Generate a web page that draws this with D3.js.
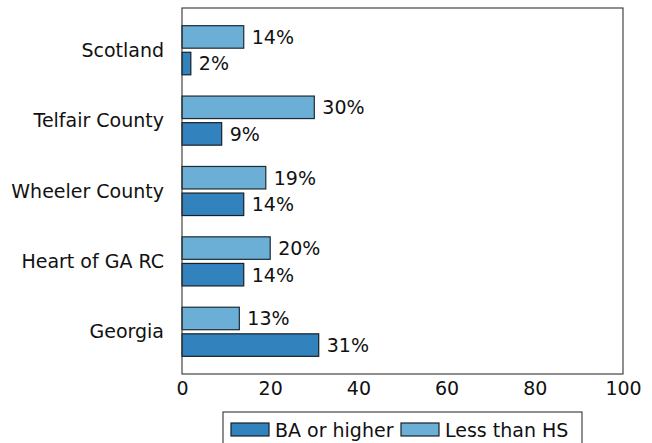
<!DOCTYPE html>
<html>
<head>
<meta charset="utf-8">
<script src="https://cdn.jsdelivr.net/npm/d3@7"></script>
<style>
  body { margin: 0; background: #fff; }
  text { font-family: "DejaVu Sans", sans-serif; fill: #111; }
</style>
</head>
<body>
<div id="chart"></div>
<script>
// data
const categories = ["Scotland", "Telfair County", "Wheeler County", "Heart of GA RC", "Georgia"];
const baOrHigher = [2, 9, 14, 14, 31];
const lessThanHS = [14, 30, 19, 20, 13];
const xTicks = [0, 20, 40, 60, 80, 100];
const seriesNames = ["BA or higher", "Less than HS"];

const width = 652, height = 443;
const margin = { top: 8, right: 29, bottom: 69, left: 182 };
const fontSize = 19;
const colors = { ba: "#3182bd", hs: "#6baed6" };

const svg = d3.select("#chart").append("svg")
  .attr("width", width)
  .attr("height", height);

const x = d3.scaleLinear()
  .domain([0, 100])
  .range([margin.left, width - margin.right]);

const y = d3.scalePoint()
  .domain(categories)
  .range([margin.top, height - margin.bottom])
  .padding(0.6);

const barH = 22.5;
const offset = 13.3;

// bars: less than HS on top, BA below
const rows = categories.map((c, i) => ({ c, ba: baOrHigher[i], hs: lessThanHS[i] }));

const g = svg.append("g");

g.selectAll("rect.hs")
  .data(rows)
  .join("rect")
  .attr("class", "hs")
  .attr("x", x(0))
  .attr("y", d => y(d.c) - offset - barH / 2)
  .attr("width", d => x(d.hs) - x(0))
  .attr("height", barH)
  .style("fill", colors.hs)
  .style("stroke", "#1f2a33")
  .style("stroke-width", 1.2);

g.selectAll("rect.ba")
  .data(rows)
  .join("rect")
  .attr("class", "ba")
  .attr("x", x(0))
  .attr("y", d => y(d.c) + offset - barH / 2)
  .attr("width", d => x(d.ba) - x(0))
  .attr("height", barH)
  .style("fill", colors.ba)
  .style("stroke", "#1a1f26")
  .style("stroke-width", 1.2);

// value labels
g.selectAll("text.hsl")
  .data(rows)
  .join("text")
  .attr("class", "hsl")
  .attr("x", d => x(d.hs) + 8)
  .attr("y", d => y(d.c) - offset)
  .attr("dy", "0.36em")
  .style("font-size", fontSize + "px")
  .text(d => d.hs + "%");

g.selectAll("text.bal")
  .data(rows)
  .join("text")
  .attr("class", "bal")
  .attr("x", d => x(d.ba) + 8)
  .attr("y", d => y(d.c) + offset)
  .attr("dy", "0.36em")
  .style("font-size", fontSize + "px")
  .text(d => d.ba + "%");

// frame
svg.append("rect")
  .attr("x", margin.left)
  .attr("y", margin.top)
  .attr("width", width - margin.right - margin.left)
  .attr("height", height - margin.bottom - margin.top)
  .style("fill", "none")
  .style("stroke", "#333")
  .style("stroke-width", 1.1);

// axes
const xAxis = svg.append("g")
  .attr("transform", `translate(0,${height - margin.bottom})`)
  .call(d3.axisBottom(x).tickValues(xTicks).tickSize(0).tickPadding(8));
xAxis.select(".domain").remove();
xAxis.selectAll("text").style("font-size", fontSize + "px").style("fill", "#111");

const yAxis = svg.append("g")
  .attr("transform", `translate(${margin.left},0)`)
  .call(d3.axisLeft(y).tickSize(0).tickPadding(18));
yAxis.select(".domain").remove();
yAxis.selectAll("text").style("font-size", fontSize + "px").style("fill", "#111");

// legend
const legend = svg.append("g");
legend.append("rect")
  .attr("x", 223).attr("y", 412)
  .attr("width", 359).attr("height", 40)
  .style("fill", "#fff")
  .style("stroke", "#333")
  .style("stroke-width", 1.1);

const legendX = [231, 401];
const legendFill = [colors.ba, colors.hs];
seriesNames.forEach((name, i) => {
  legend.append("rect")
    .attr("x", legendX[i]).attr("y", 423)
    .attr("width", 38).attr("height", 13)
    .style("fill", legendFill[i])
    .style("stroke", "#1a1f26")
    .style("stroke-width", 1.2);
  legend.append("text")
    .attr("x", legendX[i] + 44)
    .attr("y", 437)
    .style("font-size", fontSize + "px")
    .text(name);
});
</script>
</body>
</html>
